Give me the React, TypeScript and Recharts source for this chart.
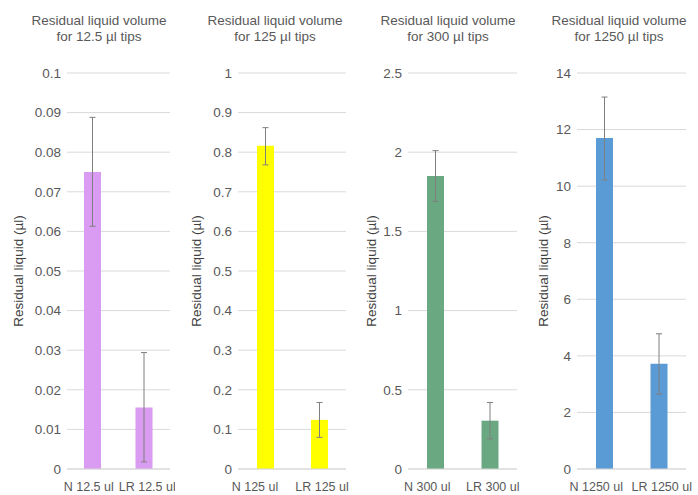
import { BarChart, Bar, XAxis, YAxis, CartesianGrid, ErrorBar, Cell } from 'recharts';

// panel 1 - 12.5 ul tips
const cats12 = ['N 12.5 ul', 'LR 12.5 ul'];
const vals12 = [0.075, 0.0155];
const low12 = [0.0613, 0.0018];
const high12 = [0.0888, 0.0294];
const ticks12 = [0, 0.01, 0.02, 0.03, 0.04, 0.05, 0.06, 0.07, 0.08, 0.09, 0.1];

// panel 2 - 125 ul tips
const cats125 = ['N 125 ul', 'LR 125 ul'];
const vals125 = [0.816, 0.124];
const low125 = [0.768, 0.08];
const high125 = [0.862, 0.168];
const ticks125 = [0, 0.1, 0.2, 0.3, 0.4, 0.5, 0.6, 0.7, 0.8, 0.9, 1];

// panel 3 - 300 ul tips
const cats300 = ['N 300 ul', 'LR 300 ul'];
const vals300 = [1.85, 0.305];
const low300 = [1.69, 0.19];
const high300 = [2.01, 0.42];
const ticks300 = [0, 0.5, 1, 1.5, 2, 2.5];

// panel 4 - 1250 ul tips
const cats1250 = ['N 1250 ul', 'LR 1250 ul'];
const vals1250 = [11.7, 3.72];
const low1250 = [10.22, 2.65];
const high1250 = [13.15, 4.78];
const ticks1250 = [0, 2, 4, 6, 8, 10, 12, 14];

const FONT = '"Liberation Sans", Arial, sans-serif';
const TEXT = '#595959';
const GRID = '#d9d9d9';

type PanelProps = {
  title: string[];
  cats: string[];
  vals: number[];
  low: number[];
  high: number[];
  ticks: number[];
  color: string;
  left: number;
  width: number;
  axisWidth: number;
  rightMargin: number;
  labelOffset: number;
  titleCenter: number;
  shiftN: number;
};

function Panel(p: PanelProps) {
  const data = p.cats.map((c, i) => ({
    name: c,
    value: p.vals[i],
    err: [p.vals[i] - p.low[i], p.high[i] - p.vals[i]],
  }));
  const max = p.ticks[p.ticks.length - 1];

  // category labels: the first one sits a bit left of its bar, like the original
  const renderTick = (props: any) => {
    const { x, y, payload, index } = props;
    const dx = index === 0 ? p.shiftN : 3;
    return (
      <text
        x={x + dx}
        y={y}
        dy="0.9em"
        textAnchor="middle"
        fill={TEXT}
        fontSize={12.5}
        fontFamily={FONT}
      >
        {payload.value}
      </text>
    );
  };

  return (
    <>
      <div
        style={{
          position: 'absolute',
          left: p.titleCenter - 90,
          top: 13,
          width: 180,
          textAlign: 'center',
          fontFamily: FONT,
          fontSize: 13.5,
          lineHeight: '16px',
          color: TEXT,
        }}
      >
        {p.title[0]}
        <br />
        {p.title[1]}
      </div>
      <div style={{ position: 'absolute', left: p.left, top: 0 }}>
        <BarChart
          width={p.width}
          height={495}
          data={data}
          margin={{ top: 73, right: p.rightMargin, bottom: 6, left: 0 }}
        >
          <CartesianGrid vertical={false} stroke={GRID} />
          <XAxis
            dataKey="name"
            interval={0}
            height={20}
            tickLine={false}
            axisLine={{ stroke: GRID }}
            tickSize={6}
            tickMargin={5}
            tick={renderTick}
          />
          <YAxis
            width={p.axisWidth}
            domain={[0, max]}
            ticks={p.ticks}
            interval={0}
            tickLine={false}
            axisLine={false}
            tickSize={4}
            tickMargin={2}
            tick={{ fill: TEXT, fontSize: 13.5, fontFamily: FONT }}
            label={{
              value: 'Residual liquid (µl)',
              angle: -90,
              position: 'insideLeft',
              offset: p.labelOffset,
              style: { textAnchor: 'middle', fill: '#404040', fontSize: 13.5, fontFamily: FONT },
            }}
          />
          <Bar dataKey="value" barSize={17} fill={p.color} isAnimationActive={false}>
            {data.map((d) => (
              <Cell key={d.name} fill={p.color} />
            ))}
            <ErrorBar
              dataKey="err"
              direction="y"
              width={3}
              stroke="#7f7f7f"
              strokeWidth={1}
              isAnimationActive={false}
            />
          </Bar>
        </BarChart>
      </div>
    </>
  );
}

export default function App() {
  return (
    <div style={{ position: 'absolute', left: 0, top: 0, width: 698, height: 495, background: '#fff' }}>
      <Panel
        title={['Residual liquid volume', 'for 12.5 µl tips']}
        cats={cats12} vals={vals12} low={low12} high={high12} ticks={ticks12}
        color="#da9bf2" left={0} width={175} axisWidth={67} rightMargin={5}
        labelOffset={18} titleCenter={99} shiftN={-4}
      />
      <Panel
        title={['Residual liquid volume', 'for 125 µl tips']}
        cats={cats125} vals={vals125} low={low125} high={high125} ticks={ticks125}
        color="#ffff00" left={180} width={170} axisWidth={58} rightMargin={4}
        labelOffset={16} titleCenter={275} shiftN={-10}
      />
      <Panel
        title={['Residual liquid volume', 'for 300 µl tips']}
        cats={cats300} vals={vals300} low={low300} high={high300} ticks={ticks300}
        color="#6aa882" left={350} width={172} axisWidth={58} rightMargin={5}
        labelOffset={21} titleCenter={448} shiftN={-8}
      />
      <Panel
        title={['Residual liquid volume', 'for 1250 µl tips']}
        cats={cats1250} vals={vals1250} low={low1250} high={high1250} ticks={ticks1250}
        color="#5b9bd5" left={520} width={178} axisWidth={57} rightMargin={12}
        labelOffset={23} titleCenter={619} shiftN={-8}
      />
    </div>
  );
}
